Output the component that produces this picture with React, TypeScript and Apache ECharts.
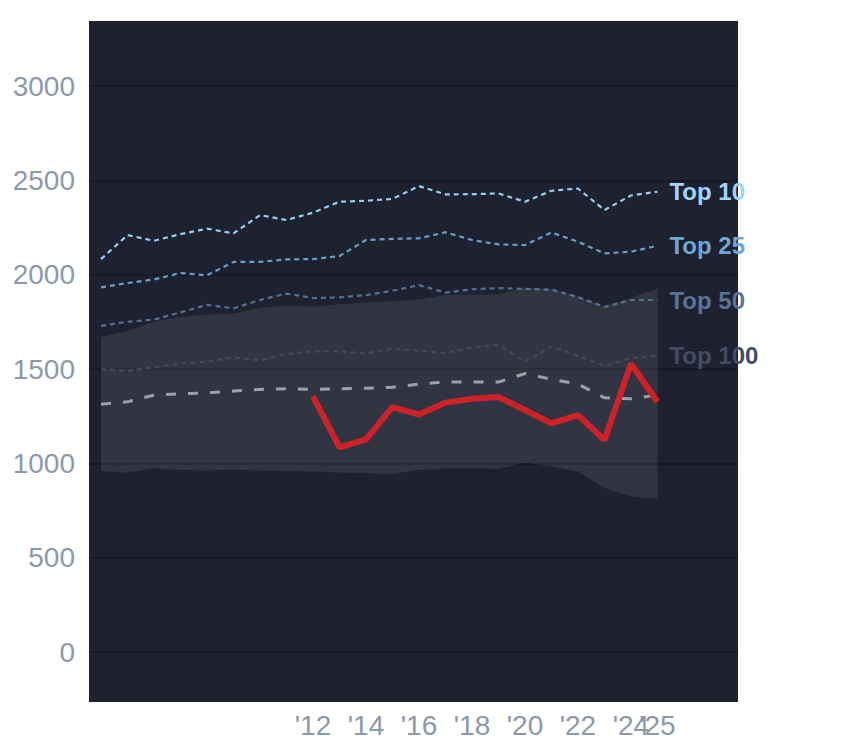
import React, { useEffect, useRef } from "react";
import * as echarts from "echarts";

const years = [2004, 2005, 2006, 2007, 2008, 2009, 2010, 2011, 2012, 2013, 2014, 2015, 2016, 2017, 2018, 2019, 2020, 2021, 2022, 2023, 2024, 2025];
const top10 = [2083, 2210, 2180, 2215, 2244, 2219, 2316, 2290, 2329, 2387, 2392, 2402, 2470, 2426, 2427, 2431, 2387, 2445, 2457, 2343, 2420, 2440];
const top25 = [1933, 1956, 1975, 2009, 1997, 2068, 2068, 2081, 2083, 2099, 2184, 2190, 2193, 2225, 2184, 2161, 2157, 2224, 2175, 2113, 2122, 2154];
const top50 = [1729, 1751, 1762, 1800, 1840, 1822, 1866, 1900, 1876, 1880, 1892, 1915, 1945, 1905, 1923, 1929, 1925, 1921, 1882, 1829, 1866, 1866];
const top100 = [1500, 1490, 1509, 1530, 1539, 1562, 1546, 1580, 1594, 1593, 1583, 1609, 1597, 1584, 1616, 1628, 1539, 1619, 1570, 1516, 1558, 1572];
const median = [1314, 1326, 1362, 1369, 1374, 1383, 1392, 1395, 1392, 1396, 1398, 1404, 1420, 1432, 1431, 1431, 1476, 1446, 1420, 1348, 1342, 1362];
const bandLow = [959, 950, 974, 965, 964, 966, 963, 960, 957, 951, 947, 943, 965, 973, 976, 970, 1005, 984, 957, 869, 825, 812];
const bandHigh = [1670, 1702, 1752, 1777, 1789, 1795, 1824, 1838, 1830, 1844, 1851, 1860, 1869, 1893, 1894, 1897, 1932, 1923, 1886, 1830, 1878, 1925];
const redYears = [2012, 2013, 2014, 2015, 2016, 2017, 2018, 2019, 2020, 2021, 2022, 2023, 2024, 2025];
const redValues = [1355, 1085, 1127, 1298, 1259, 1322, 1342, 1352, 1283, 1212, 1256, 1124, 1528, 1327];
const xTickYears = [2012, 2014, 2016, 2018, 2020, 2022, 2024];
const xLastYear = [2025];
const yTicks = [0, 500, 1000, 1500, 2000, 2500, 3000];
const tierNames = ["Top 10", "Top 25", "Top 50", "Top 100"];

const FONT = "Arial, 'Liberation Sans', sans-serif";
const AXIS_COLOR = "#8d99aa";
const X_MIN = 2003.547;
const X_MAX = 2028.04;

export default function App() {
  const ref = useRef<HTMLDivElement>(null);
  useEffect(() => {
    if (!ref.current) return;
    const chart = echarts.init(ref.current, null, { renderer: "svg" });
    const pair = (arr: number[], xs: number[] = years) => xs.map((y, i) => [y, arr[i]]);
    const tiers = [
      { name: tierNames[0], data: top10, color: "#97cdf2", label: "#9fd4fb" },
      { name: tierNames[1], data: top25, color: "#6b9dc9", label: "#71a6d3" },
      { name: tierNames[2], data: top50, color: "#56718f", label: "#587496" },
      { name: tierNames[3], data: top100, color: "#414a5f", label: "#434c63" },
    ];
    const xLabel = (vals: number[]) => ({
      customValues: vals,
      formatter: (v: number) => "'" + String(Math.round(v)).slice(2),
      color: AXIS_COLOR,
      fontSize: 28,
      fontFamily: FONT,
      margin: 9,
      hideOverlap: false,
    });
    const option: any = {
      animation: false,
      backgroundColor: "#ffffff",
      textStyle: { fontFamily: FONT },
      grid: {
        left: 89,
        right: 106,
        top: 21,
        bottom: 46,
        show: true,
        backgroundColor: "#1d2130",
        borderWidth: 0,
        containLabel: false,
        outerBoundsMode: "none",
      },
      xAxis: [
        {
          type: "value",
          min: X_MIN,
          max: X_MAX,
          position: "bottom",
          axisLine: { show: false },
          axisTick: { show: false, customValues: xTickYears },
          splitLine: { show: false },
          axisLabel: xLabel(xTickYears),
        },
        {
          type: "value",
          min: X_MIN,
          max: X_MAX,
          position: "bottom",
          offset: 0,
          axisLine: { show: false },
          axisTick: { show: false, customValues: xLastYear },
          splitLine: { show: false },
          axisLabel: xLabel(xLastYear),
        },
      ],
      yAxis: {
        type: "value",
        min: -265,
        max: 3345,
        axisLine: { show: false },
        axisTick: { show: false, customValues: yTicks },
        splitLine: { show: true, lineStyle: { color: "#151924", width: 2 } },
        axisLabel: {
          customValues: yTicks,
          formatter: (v: number) => String(v),
          color: AXIS_COLOR,
          fontSize: 28,
          fontFamily: FONT,
          margin: 14,
        },
      },
      series: [
        {
          type: "custom",
          silent: true,
          z: 1,
          data: [[years[0], bandLow[0]]],
          renderItem: (_params: any, api: any) => {
            const upper = years.map((y, i) => api.coord([y, bandHigh[i]]));
            const lower = years.map((y, i) => api.coord([y, bandLow[i]])).reverse();
            return {
              type: "polygon",
              shape: { points: upper.concat(lower) },
              style: { fill: "rgba(255,255,255,0.09)" },
            };
          },
        },
        ...tiers.map((t) => ({
          type: "line",
          name: t.name,
          z: 2,
          data: pair(t.data),
          symbol: "none",
          silent: true,
          lineStyle: { color: t.color, width: 2.2, type: [5, 4] },
          endLabel: {
            show: true,
            formatter: t.name,
            color: t.label,
            fontSize: 24,
            fontWeight: "bold",
            fontFamily: FONT,
            distance: 12,
          },
        })),
        {
          type: "line",
          z: 3,
          data: pair(median),
          symbol: "none",
          silent: true,
          lineStyle: { color: "#9ba1ab", width: 3, type: [10, 12] },
        },
        {
          type: "line",
          z: 4,
          data: pair(redValues, redYears),
          symbol: "none",
          silent: true,
          lineStyle: { color: "#cf2129", width: 6 },
        },
      ],
    };
    chart.setOption(option);
    return () => chart.dispose();
  }, []);
  return (
    <div
      ref={ref}
      style={{ position: "fixed", left: 0, top: 0, width: 844, height: 748 }}
    />
  );
}
